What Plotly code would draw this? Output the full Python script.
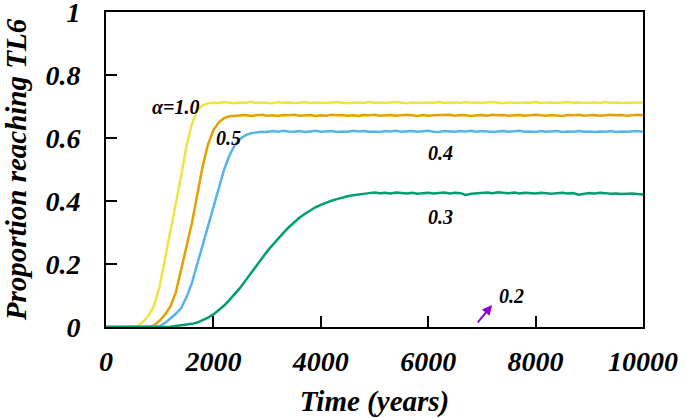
import plotly.graph_objects as go

# time grid (years)
time = list(range(0, 10001, 100))

# proportion reaching TL6 for each alpha
alpha_10 = [0, 0, 0, 0, 0, 0, 0.004, 0.018, 0.038, 0.07, 0.13, 0.215, 0.30, 0.39, 0.48, 0.575, 0.645, 0.688, 0.704, 0.710,
            0.712, 0.711, 0.714, 0.712, 0.710, 0.713, 0.712, 0.715, 0.711, 0.713,
            0.712, 0.710, 0.714, 0.712, 0.713, 0.711, 0.712, 0.714, 0.711, 0.713,
            0.712, 0.711, 0.713, 0.714, 0.712, 0.710, 0.712, 0.713, 0.711, 0.714,
            0.712, 0.713, 0.711, 0.712, 0.714, 0.712, 0.710, 0.713, 0.712, 0.711,
            0.713, 0.712, 0.714, 0.711, 0.712, 0.713, 0.711, 0.714, 0.712, 0.713,
            0.711, 0.712, 0.714, 0.712, 0.710, 0.713, 0.712, 0.711, 0.713, 0.712,
            0.714, 0.711, 0.712, 0.713, 0.711, 0.712, 0.714, 0.712, 0.713, 0.711,
            0.712, 0.713, 0.711, 0.714, 0.712, 0.713, 0.711, 0.712, 0.713, 0.712,
            0.713]

alpha_05 = [0, 0, 0, 0, 0, 0, 0, 0, 0, 0.006, 0.02, 0.04, 0.065, 0.11, 0.18, 0.25, 0.33, 0.42, 0.51, 0.58,
            0.625, 0.650, 0.663, 0.669, 0.671,
            0.671, 0.673, 0.670, 0.672, 0.674, 0.671, 0.672, 0.670, 0.673, 0.672,
            0.674, 0.671, 0.672, 0.673, 0.670, 0.672, 0.671, 0.674, 0.672, 0.673,
            0.671, 0.672, 0.670, 0.673, 0.672, 0.674, 0.671, 0.672, 0.673, 0.671,
            0.672, 0.674, 0.672, 0.670, 0.673, 0.671, 0.672, 0.673, 0.672, 0.674,
            0.671, 0.673, 0.672, 0.670, 0.672, 0.673, 0.671, 0.674, 0.672, 0.673,
            0.671, 0.672, 0.673, 0.671, 0.672, 0.674, 0.672, 0.671, 0.673, 0.672,
            0.670, 0.673, 0.672, 0.674, 0.671, 0.672, 0.673, 0.671, 0.672, 0.674,
            0.672, 0.673, 0.671, 0.673, 0.674, 0.672]

alpha_04 = [0, 0, 0, 0, 0, 0, 0, 0, 0, 0, 0.002, 0.013, 0.027, 0.042, 0.06, 0.095, 0.14, 0.20, 0.26, 0.315,
            0.375, 0.44, 0.50, 0.545, 0.578, 0.598, 0.609, 0.615, 0.618,
            0.620, 0.619, 0.622, 0.620, 0.623, 0.621, 0.620, 0.622, 0.619, 0.621,
            0.623, 0.620, 0.621, 0.622, 0.619, 0.621, 0.620, 0.623, 0.621, 0.622,
            0.620, 0.621, 0.619, 0.622, 0.621, 0.623, 0.620, 0.621, 0.622, 0.620,
            0.621, 0.623, 0.620, 0.619, 0.622, 0.621, 0.620, 0.622, 0.621, 0.623,
            0.620, 0.622, 0.621, 0.619, 0.621, 0.622, 0.620, 0.621, 0.623, 0.620,
            0.621, 0.619, 0.622, 0.620, 0.621, 0.622, 0.619, 0.621, 0.620, 0.622,
            0.620, 0.621, 0.619, 0.621, 0.620, 0.622, 0.619, 0.621, 0.620, 0.621,
            0.622, 0.620]

alpha_03 = [0, 0, 0, 0, 0, 0, 0, 0, 0, 0, 0, 0,
            0.001, 0.003, 0.005, 0.007, 0.010, 0.014, 0.021, 0.030, 0.040, 0.053, 0.068, 0.086, 0.105,
            0.125, 0.148, 0.172, 0.195, 0.218, 0.240, 0.260, 0.280, 0.298, 0.316, 0.332, 0.347, 0.359,
            0.370, 0.380, 0.388, 0.395, 0.401, 0.406, 0.411, 0.415, 0.418, 0.421, 0.423, 0.425, 0.427,
            0.425, 0.426, 0.424, 0.427, 0.425, 0.424, 0.426, 0.423, 0.425, 0.426,
            0.424, 0.425, 0.427, 0.424, 0.426, 0.425, 0.419, 0.423, 0.425, 0.426,
            0.427, 0.425, 0.428, 0.426, 0.425, 0.427, 0.424, 0.426, 0.425, 0.424,
            0.426, 0.425, 0.423, 0.425, 0.426, 0.424, 0.425, 0.420, 0.423, 0.425,
            0.424, 0.426, 0.425, 0.423, 0.424, 0.422, 0.423, 0.424, 0.422, 0.421]

# arrow pointing at the (near zero) alpha = 0.2 curve
arrow_tail = (6900, 0.01)
arrow_head = (7190, 0.07)

series = [
    (alpha_10, "#F0E442"),
    (alpha_05, "#E69F00"),
    (alpha_04, "#56B4E9"),
    (alpha_03, "#009E73"),
]

# curve labels: text, x, y
labels = [
    ("α=1.0", 1285, 0.70),
    ("0.5", 2290, 0.60),
    ("0.4", 6220, 0.551),
    ("0.3", 6220, 0.349),
    ("0.2", 7560, 0.097),
]

x_ticks = [0, 2000, 4000, 6000, 8000, 10000]
x_ticktext = ["0", "2000", "4000", "6000", "8000", "10000"]
y_ticks = [0, 0.2, 0.4, 0.6, 0.8, 1]
y_ticktext = ["0", "0.2", "0.4", "0.6", "0.8", "1"]

serif = "Liberation Serif, Times New Roman, serif"
big = dict(family=serif, size=28, color="black", weight="bold", style="italic")
title_font = dict(family=serif, size=29, color="black", weight="bold", style="italic")
small = dict(family=serif, size=20, color="black", weight="bold", style="italic")

fig = go.Figure()
for vals, col in series:
    fig.add_trace(go.Scatter(x=time, y=vals, mode="lines", line=dict(color=col, width=2.5)))

for txt, lx, ly in labels:
    fig.add_annotation(x=lx, y=ly, text=txt, showarrow=False, font=small)

fig.add_annotation(x=arrow_head[0], y=arrow_head[1], ax=arrow_tail[0], ay=arrow_tail[1],
                   axref="x", ayref="y", text="", showarrow=True,
                   arrowhead=2, arrowsize=1, arrowwidth=2, arrowcolor="#9400D3")

fig.update_layout(
    width=685, height=418,
    margin=dict(l=106, r=42, t=12, b=91),
    plot_bgcolor="white", paper_bgcolor="white",
    showlegend=False,
)
fig.update_xaxes(
    range=[0, 10000], tickvals=x_ticks, ticktext=x_ticktext,
    ticks="inside", ticklen=11, tickwidth=2, tickcolor="black",
    showline=True, linecolor="black", linewidth=2, mirror=True,
    showgrid=False, zeroline=False, tickfont=big, ticklabelstandoff=8,
    ticklabeloverflow="allow", automargin=False,
    title=dict(text="Time (years)", font=title_font, standoff=15),
)
fig.update_yaxes(
    range=[0, 1], tickvals=y_ticks, ticktext=y_ticktext,
    ticks="inside", ticklen=11, tickwidth=2, tickcolor="black",
    showline=True, linecolor="black", linewidth=2, mirror=True,
    showgrid=False, zeroline=False, tickfont=big, ticklabelstandoff=18,
    ticklabeloverflow="allow", automargin=False,
    title=dict(text="Proportion reaching TL6", font=title_font, standoff=17),
)

# the page body has a default margin; drop it so the figure sits at the window corner
fig.write_html("out.html", config={"displayModeBar": False},
               post_script="document.body.style.margin='0';")
